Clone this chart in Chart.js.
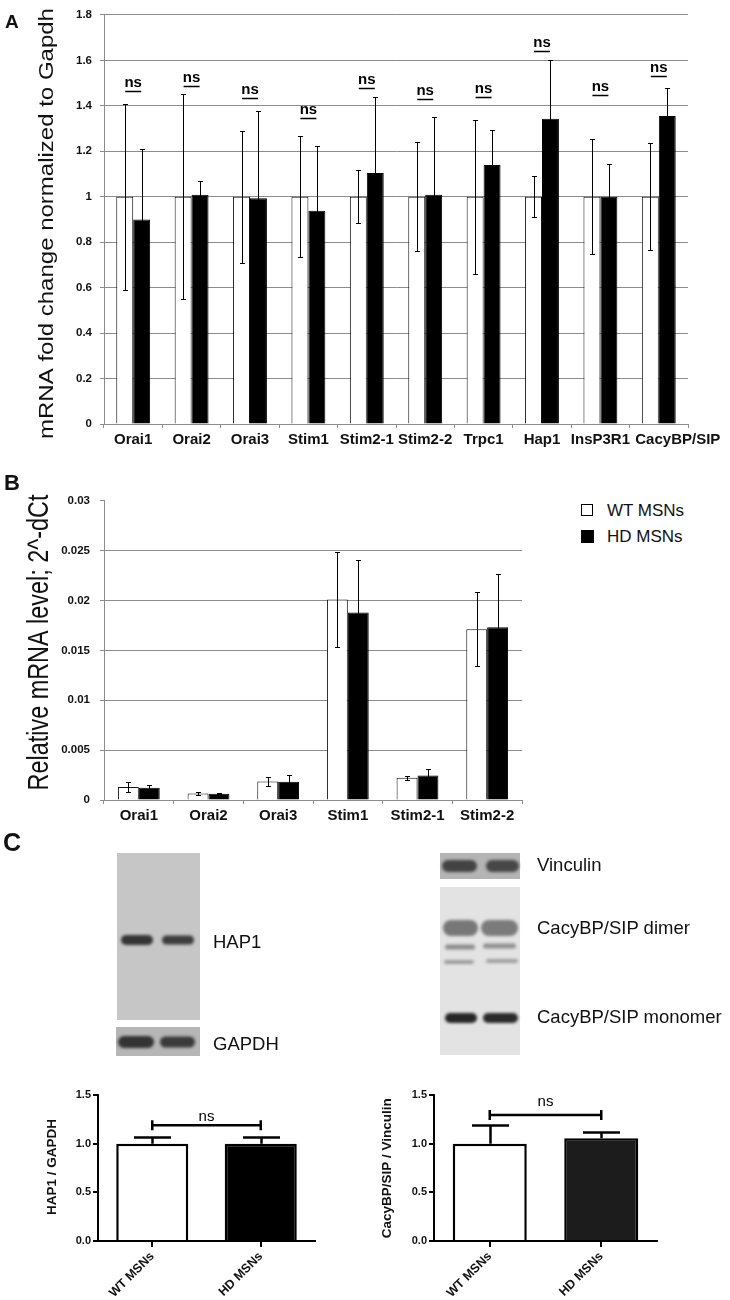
<!DOCTYPE html>
<html>
<head>
<meta charset="utf-8">
<script src="https://cdn.jsdelivr.net/npm/chart.js@4.4.1/dist/chart.umd.min.js"></script>
<style>
body { margin: 0; background: #fff; width: 730px; height: 1300px; position: relative; overflow: hidden; font-family: 'Liberation Sans', Arial, sans-serif; }
.box { position: absolute; }
.lbl { position: absolute; line-height: 1; white-space: nowrap; color: #111; }
</style>
</head>
<body>

<div class="box" style="left:0;top:0"><canvas id="chartA" width="730" height="455"></canvas></div>
<div class="box" style="left:0;top:455px"><canvas id="chartB" width="540" height="375"></canvas></div>
<div class="box" style="left:0;top:830px"><canvas id="blots" width="730" height="240"></canvas></div>
<div class="box" style="left:0;top:1070px"><canvas id="chartC1" width="365" height="230"></canvas></div>
<div class="box" style="left:365px;top:1070px"><canvas id="chartC2" width="365" height="230"></canvas></div>

<div class="lbl" style="left:5px;top:12px;font-size:19px;font-weight:bold">A</div>
<div class="lbl" style="left:4px;top:472px;font-size:22px;font-weight:bold">B</div>
<div class="lbl" style="left:3px;top:830px;font-size:25px;font-weight:bold">C</div>

<!-- legend for B -->
<div class="lbl" style="left:581px;top:504px;width:10px;height:10px;border:1.5px solid #000;background:#fff"></div>
<div class="lbl" style="left:607px;top:502px;font-size:17px">WT MSNs</div>
<div class="lbl" style="left:581px;top:530px;width:13px;height:13px;background:#000"></div>
<div class="lbl" style="left:607px;top:528px;font-size:17px">HD MSNs</div>

<!-- blot labels -->
<div class="lbl" style="left:213px;top:933px;font-size:18.5px">HAP1</div>
<div class="lbl" style="left:213px;top:1035px;font-size:18.5px">GAPDH</div>
<div class="lbl" style="left:537px;top:856px;font-size:18.5px">Vinculin</div>
<div class="lbl" style="left:537px;top:919px;font-size:18.5px">CacyBP/SIP dimer</div>
<div class="lbl" style="left:537px;top:1008px;font-size:18.5px">CacyBP/SIP monomer</div>

<script>
// panel A: fold change
const genesA = ['Orai1', 'Orai2', 'Orai3', 'Stim1', 'Stim2-1', 'Stim2-2', 'Trpc1', 'Hap1', 'InsP3R1', 'CacyBP/SIP'];
const wtA = [1, 1, 1, 1, 1, 1, 1, 1, 1, 1];
const wtErrA = [0.41, 0.45, 0.29, 0.267, 0.116, 0.24, 0.338, 0.09, 0.252, 0.235];
const hdA = [0.90, 1.009, 0.993, 0.938, 1.104, 1.009, 1.14, 1.343, 1.0, 1.355];
const hdErrA = [0.31, 0.06, 0.385, 0.285, 0.334, 0.34, 0.155, 0.26, 0.145, 0.123];
const nsLevelA = [1.465, 1.487, 1.435, 1.348, 1.48, 1.43, 1.439, 1.643, 1.448, 1.53];

// panel B: relative level
const genesB = ['Orai1', 'Orai2', 'Orai3', 'Stim1', 'Stim2-1', 'Stim2-2'];
const wtB = [0.0013, 0.00065, 0.00186, 0.0201, 0.00222, 0.01712];
const wtErrB = [0.0005, 0.00018, 0.00047, 0.0048, 0.00022, 0.0037];
const hdB = [0.00122, 0.00063, 0.00184, 0.0188, 0.00246, 0.01732];
const hdErrB = [0.00033, 0.00003, 0.00064, 0.0053, 0.00067, 0.0053];

// panel C: blot quantification
const groupsC = ['WT MSNs', 'HD MSNs'];
const hapRatio = [1.0, 1.0];
const hapErr = [0.072, 0.066];
const hapNs = 1.19;
const cacyRatio = [1.0, 1.055];
const cacyErr = [0.19, 0.07];
const cacyNs = 1.295;

Chart.defaults.font.family = "'Liberation Sans', Arial, sans-serif";
Chart.defaults.color = '#111';

const gray = '#8c8c8c';

const errorBars = {
    id: 'errorBars',
    afterDatasetsDraw(chart, args, o) {
        if (!o.sets) return;
        const ctx = chart.ctx;
        const y = chart.scales.y;
        ctx.save();
        ctx.strokeStyle = o.color || '#000';
        ctx.lineWidth = o.width || 1;
        o.sets.forEach(s => {
            const meta = chart.getDatasetMeta(s.index);
            const vals = chart.data.datasets[s.index].data;
            meta.data.forEach((bar, i) => {
                const e = s.err[i];
                if (!e) return;
                const x = Math.round(bar.x) + 0.5;
                const top = Math.round(y.getPixelForValue(vals[i] + e)) + 0.5;
                const bot = o.upOnly ? y.getPixelForValue(vals[i]) : Math.round(y.getPixelForValue(vals[i] - e)) + 0.5;
                const hw = o.cap / 2;
                ctx.beginPath();
                ctx.moveTo(x, bot); ctx.lineTo(x, top);
                ctx.moveTo(x - hw, top); ctx.lineTo(x + hw, top);
                if (!o.upOnly) { ctx.moveTo(x - hw, bot); ctx.lineTo(x + hw, bot); }
                ctx.stroke();
            });
        });
        ctx.restore();
    }
};

const nsMarks = {
    id: 'nsMarks',
    afterDatasetsDraw(chart, args, o) {
        if (!o.mode) return;
        const {ctx, scales: {x, y}} = chart;
        ctx.save();
        ctx.fillStyle = '#000';
        ctx.strokeStyle = '#000';
        ctx.font = o.font;
        ctx.textAlign = 'center';
        ctx.textBaseline = 'alphabetic';
        if (o.mode === 'underline') {
            o.values.forEach((v, i) => {
                const cx = x.getPixelForValue(i);
                const py = Math.round(y.getPixelForValue(v)) + 0.5;
                ctx.lineWidth = 1.5;
                ctx.beginPath();
                ctx.moveTo(cx - 8, py); ctx.lineTo(cx + 8, py);
                ctx.stroke();
                ctx.fillText('ns', cx, py - o.gap);
            });
        } else {
            const x0 = x.getPixelForValue(0), x1 = x.getPixelForValue(1);
            const py = y.getPixelForValue(o.value);
            ctx.lineWidth = 2.5;
            ctx.beginPath();
            ctx.moveTo(x0, py); ctx.lineTo(x1, py);
            ctx.moveTo(x0, py - 5); ctx.lineTo(x0, py + 5);
            ctx.moveTo(x1, py - 5); ctx.lineTo(x1, py + 5);
            ctx.stroke();
            ctx.fillText('ns', (x0 + x1) / 2, py - o.gap);
        }
        ctx.restore();
    }
};

const sideTitle = {
    id: 'sideTitle',
    afterDraw(chart, args, o) {
        if (!o.text) return;
        const ctx = chart.ctx;
        ctx.save();
        ctx.translate(o.x, o.cy);
        ctx.rotate(-Math.PI / 2);
        ctx.scale(o.stretch || 1, 1);
        ctx.font = o.font;
        ctx.fillStyle = '#111';
        ctx.textAlign = 'center';
        ctx.textBaseline = 'alphabetic';
        ctx.fillText(o.text, 0, 0);
        ctx.restore();
    }
};

// nudge the last category label sideways, the way the source figure does
const lastLabelShift = {
    id: 'lastLabelShift',
    beforeDraw(chart, args, o) {
        if (!o.dx) return;
        const sx = chart.scales.x;
        if (!sx.getLabelItems) return;
        const items = sx.getLabelItems();
        const it = items[items.length - 1];
        if (it && !it._shifted) {
            it.options.translation[0] += o.dx;
            it._shifted = true;
        }
    }
};

Chart.register(errorBars, nsMarks, sideTitle, lastLabelShift);

const chartA = new Chart(document.getElementById('chartA'), {
    type: 'bar',
    data: {
        labels: genesA,
        datasets: [{
            label: 'WT MSNs',
            data: wtA,
            backgroundColor: '#fff',
            borderColor: '#111',
            borderWidth: 1,
            categoryPercentage: 0.58,
            barPercentage: 1,
        }, {
            label: 'HD MSNs',
            data: hdA,
            backgroundColor: '#000',
            borderColor: '#000',
            borderWidth: 1,
            categoryPercentage: 0.58,
            barPercentage: 1,
        }]
    },
    options: {
        responsive: false,
        animation: false,
        layout: {padding: {top: 10, right: 42, left: 0, bottom: 0}},
        plugins: {
            legend: {display: false},
            tooltip: {enabled: false},
            errorBars: {cap: 5, width: 1, sets: [{index: 0, err: wtErrA}, {index: 1, err: hdErrA}]},
            nsMarks: {mode: 'underline', values: nsLevelA, font: 'bold 15px "Liberation Sans", Arial', gap: 5},
            sideTitle: {text: 'mRNA fold change normalized to Gapdh', x: 52.7, cy: 223.5, stretch: 1.2, font: '20px "Liberation Sans", Arial'},
            lastLabelShift: {dx: 19},
        },
        scales: {
            x: {
                grid: {drawOnChartArea: false, tickLength: 4, color: gray, offset: true},
                border: {color: gray},
                ticks: {font: {size: 15, weight: 'bold'}, padding: 3, maxRotation: 0, autoSkip: false},
                afterFit(s) { s.height = 31; },
            },
            y: {
                min: 0,
                max: 1.8,
                ticks: {stepSize: 0.2, font: {size: 11.5, weight: 'bold'}, padding: 8, callback: v => String(+v.toFixed(1))},
                grid: {color: gray, tickLength: 4},
                border: {color: gray},
                afterFit(s) { s.width = 104; },
            }
        }
    }
});

const chartB = new Chart(document.getElementById('chartB'), {
    type: 'bar',
    data: {
        labels: genesB,
        datasets: [{
            label: 'WT MSNs',
            data: wtB,
            backgroundColor: '#fff',
            borderColor: '#111',
            borderWidth: 1,
            categoryPercentage: 0.6,
            barPercentage: 1,
        }, {
            label: 'HD MSNs',
            data: hdB,
            backgroundColor: '#000',
            borderColor: '#000',
            borderWidth: 1,
            categoryPercentage: 0.6,
            barPercentage: 1,
        }]
    },
    options: {
        responsive: false,
        animation: false,
        layout: {padding: {top: 45.7, right: 18, left: 0, bottom: 0}},
        plugins: {
            legend: {display: false},
            tooltip: {enabled: false},
            errorBars: {cap: 5, width: 1, sets: [{index: 0, err: wtErrB}, {index: 1, err: hdErrB}]},
            sideTitle: {text: 'Relative mRNA level; 2^-dCt', x: 48, cy: 187.5, stretch: 0.78, font: '30px "Liberation Sans", Arial'},
        },
        scales: {
            x: {
                grid: {drawOnChartArea: false, tickLength: 4, color: gray, offset: true},
                border: {color: gray},
                ticks: {font: {size: 15, weight: 'bold'}, padding: 3, maxRotation: 0, autoSkip: false},
                afterFit(s) { s.height = 30; },
            },
            y: {
                min: 0,
                max: 0.03,
                ticks: {stepSize: 0.005, font: {size: 11.5, weight: 'bold'}, padding: 10, callback: v => String(+v.toFixed(3))},
                grid: {
                    color: c => (c.tick && c.tick.value > 0.0299) ? 'rgba(0,0,0,0)' : gray,
                    tickColor: gray,
                    tickLength: 4
                },
                border: {color: gray},
                afterFit(s) { s.width = 104; },
            }
        }
    }
});

function smallChart(id, values, errs, nsValue, nsGap, hdColor, title, titleX, titleY, padRight, yWidth) {
    return new Chart(document.getElementById(id), {
        type: 'bar',
        data: {
            labels: groupsC,
            datasets: [{
                data: values,
                backgroundColor: ['#fff', hdColor],
                borderColor: '#000',
                borderWidth: 2.5,
                categoryPercentage: 1,
                barPercentage: 0.664,
            }]
        },
        options: {
            responsive: false,
            animation: false,
            layout: {padding: {top: 25, right: padRight, left: 0, bottom: 0}},
            plugins: {
                legend: {display: false},
                tooltip: {enabled: false},
                errorBars: {cap: 37, width: 2.5, upOnly: true, sets: [{index: 0, err: errs}]},
                nsMarks: {mode: 'bracket', value: nsValue, font: '15px "Liberation Sans", Arial', gap: nsGap},
                sideTitle: {text: title, x: titleX, cy: titleY, font: 'bold 13.5px "Liberation Sans", Arial'},
            },
            scales: {
                x: {
                    grid: {drawOnChartArea: false, tickLength: 6, color: '#000', lineWidth: 2, offset: false},
                    border: {color: '#000', width: 2},
                    ticks: {font: {size: 12.5, weight: 'bold'}, padding: 2, minRotation: 45, maxRotation: 45, autoSkip: false},
                    afterFit(s) { s.height = 59; },
                },
                y: {
                    min: 0,
                    max: 1.5,
                    ticks: {stepSize: 0.5, font: {size: 11, weight: 'bold'}, padding: 2, callback: v => v.toFixed(1)},
                    grid: {drawOnChartArea: false, tickLength: 5, color: '#000', lineWidth: 2},
                    border: {color: '#000', width: 2},
                    afterFit(s) { s.width = yWidth; },
                }
            }
        }
    });
}

const chartC1 = smallChart('chartC1', hapRatio, hapErr, hapNs, 4.5, '#000', 'HAP1 / GAPDH', 55.5, 97, 50, 98);
const chartC2 = smallChart('chartC2', cacyRatio, cacyErr, cacyNs, 9, '#1c1c1c', 'CacyBP/SIP / Vinculin', 25.5, 98.3, 73, 69);

// western blot strips (picture, not data)
const blotPanels = [
    [117, 853, 83, 167, '#c6c6c6'],
    [116, 1027, 84, 29, '#b6b6b6'],
    [440, 853, 80, 26, '#b4b4b4'],
    [440, 887, 80, 168, '#e3e3e3']
];
const blotBands = [
    [121, 940, 32, 10, '#353535'], [162, 940, 32, 9, '#3d3d3d'],
    [118, 1042, 36, 12, '#333333'], [160, 1042, 35, 11, '#3a3a3a'],
    [442, 866, 35, 12, '#434343'], [486, 866, 33, 12, '#474747'],
    [443, 928, 35, 16, '#777777'], [481, 928, 37, 16, '#7b7b7b'],
    [445, 947, 30, 5, '#8c8c8c'], [483, 946, 33, 5, '#909090'],
    [444, 962, 30, 4, '#9c9c9c'], [486, 961, 32, 4, '#9e9e9e'],
    [445, 1018, 32, 10, '#262626'], [483, 1018, 35, 10, '#2a2a2a']
];
const bctx = document.getElementById('blots').getContext('2d');
blotPanels.forEach(([x, y, w, h, c]) => {
    bctx.fillStyle = c;
    bctx.fillRect(x, y - 830, w, h);
});
blotBands.forEach(([x, y, w, h, c]) => {
    bctx.save();
    bctx.filter = 'blur(1.5px)';
    bctx.fillStyle = c;
    bctx.beginPath();
    bctx.roundRect(x, y - 830 - h / 2, w, h, h / 2);
    bctx.fill();
    bctx.restore();
});
</script>
</body>
</html>
